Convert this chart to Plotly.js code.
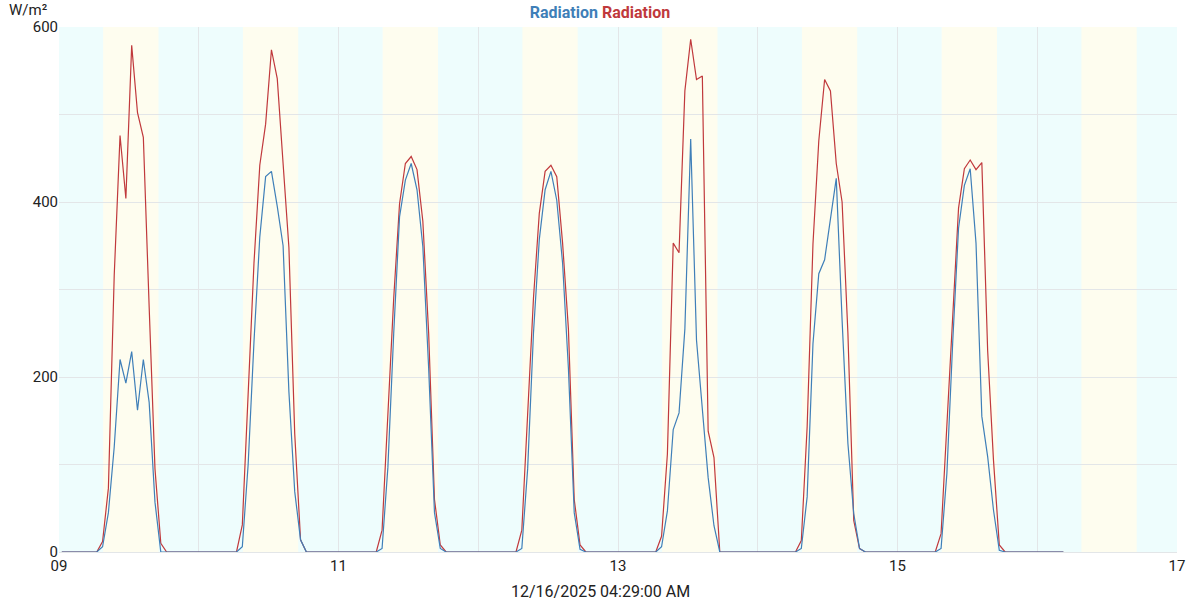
<!DOCTYPE html>
<html>
<head>
<meta charset="utf-8">
<script src="https://cdn.plot.ly/plotly-3.0.1.min.js"></script>
<style>html,body{margin:0;padding:0;background:#fff;}#chart{width:1200px;height:600px;}</style>
</head>
<body>
<div id="chart"></div>
<script>
// Days shown (December 2025), hourly readings at HH:29
var days = ['09','10','11','12','13','14','15'];
var lastDay = '16';
var lastDayHours = 5; // 00:29 .. 04:29

// Daylight readings, hours 07..17 (other hours read as 0)
var redDay09 = [12, 73, 316, 476, 404, 579, 502, 474, 280, 95, 10];
var redDay10 = [31, 180, 330, 442, 489, 574, 541, 444, 348, 135, 14];
var redDay11 = [25, 150, 290, 398, 444, 452, 437, 378, 250, 60, 8];
var redDay12 = [25, 150, 290, 387, 435, 442, 429, 353, 255, 60, 8];
var redDay13 = [18, 112, 353, 342, 527, 586, 540, 544, 138, 108, 0];
var redDay14 = [13, 143, 352, 470, 540, 527, 444, 400, 250, 36, 4];
var redDay15 = [21, 145, 270, 393, 438, 448, 437, 445, 230, 105, 8];

var blueDay09 = [6, 45, 120, 220, 193, 229, 162, 220, 171, 57, 0];
var blueDay10 = [6, 100, 240, 360, 429, 435, 395, 350, 183, 69, 14];
var blueDay11 = [4, 97, 250, 383, 425, 444, 414, 349, 210, 45, 4];
var blueDay12 = [4, 95, 250, 357, 414, 435, 402, 330, 210, 45, 3];
var blueDay13 = [6, 47, 140, 159, 255, 472, 242, 159, 85, 30, 0];
var blueDay14 = [4, 63, 238, 318, 334, 383, 427, 265, 124, 44, 4];
var blueDay15 = [4, 90, 240, 370, 419, 438, 353, 155, 109, 48, 2];

var redDays = [redDay09, redDay10, redDay11, redDay12, redDay13, redDay14, redDay15];
var blueDays = [blueDay09, blueDay10, blueDay11, blueDay12, blueDay13, blueDay14, blueDay15];

// Daylight shading bands
var bandDays = ['09','10','11','12','13','14','15','16'];
var sunrise = '07:35';
var sunset = '17:05';

var xTickVals = ['2025-12-09','2025-12-11','2025-12-13','2025-12-15','2025-12-17'];
var xTickText = ['09','11','13','15','17'];
var yTickVals = [0, 200, 400, 600];

function pad(n){ return (n < 10 ? '0' : '') + n; }

var xs = [], red = [], blue = [];
for (var d = 0; d < days.length; d++) {
  for (var h = 0; h < 24; h++) {
    xs.push('2025-12-' + days[d] + ' ' + pad(h) + ':29');
    var i = h - 7;
    red.push(i >= 0 && i < redDays[d].length ? redDays[d][i] : 0);
    blue.push(i >= 0 && i < blueDays[d].length ? blueDays[d][i] : 0);
  }
}
for (var h2 = 0; h2 < lastDayHours; h2++) {
  xs.push('2025-12-' + lastDay + ' ' + pad(h2) + ':29');
  red.push(0); blue.push(0);
}

var shapes = bandDays.map(function(dd){
  return {type:'rect', xref:'x', yref:'paper', layer:'below',
    x0:'2025-12-' + dd + ' ' + sunrise, x1:'2025-12-' + dd + ' ' + sunset,
    y0:0, y1:1, fillcolor:'#fefdef', line:{width:0}};
});

var traces = [
  {x: xs, y: red, type:'scatter', mode:'lines', name:'Radiation',
   line:{color:'#c0393c', width:1.2}, hoverinfo:'x+y'},
  {x: xs, y: blue, type:'scatter', mode:'lines', name:'Radiation',
   line:{color:'#3f7fb8', width:1.2}, hoverinfo:'x+y'}
];

var font = {family:'Roboto, "Open Sans", sans-serif', size:15, color:'#222'};

var layout = {
  width:1200, height:600,
  margin:{l:59, r:23, t:27, b:48},
  paper_bgcolor:'#ffffff',
  plot_bgcolor:'#eefdfd',
  showlegend:false,
  font: font,
  title:{text:'<b><span style="color:#3f7fb8">Radiation</span> <span style="color:#c0393c">Radiation</span></b>',
    x:0.5, xref:'container', y:0.98, yref:'container', yanchor:'middle',
    font:{family:'Roboto, sans-serif', size:16}},
  xaxis:{type:'date', range:['2025-12-09','2025-12-17'],
    tickmode:'array', tickvals:xTickVals, ticktext:xTickText,
    showgrid:true, gridcolor:'#e3e6e8', gridwidth:1,
    minor:{dtick:86400000, showgrid:true, gridcolor:'#e3e6e8', gridwidth:1},
    zeroline:false, showline:true, linecolor:'#e3e6e8', linewidth:1,
    ticks:'', tickfont:{family:'Roboto, sans-serif', size:15, color:'#222'}},
  yaxis:{range:[0,600], tickmode:'array', tickvals:yTickVals,
    showgrid:true, gridcolor:'#e3e6e8', gridwidth:1,
    minor:{dtick:100, showgrid:true, gridcolor:'#e3e6e8', gridwidth:1},
    zeroline:false, showline:false, ticks:'',
    tickfont:{family:'Roboto, sans-serif', size:15, color:'#222'}},
  shapes: shapes,
  annotations:[
    {text:'W/m²', xref:'paper', yref:'paper', x:-0.028, y:1, xanchor:'center', yanchor:'middle',
     yshift:17, showarrow:false, font:{family:'Roboto, sans-serif', size:15, color:'#222'}},
    {text:'12/16/2025 04:29:00 AM', xref:'paper', yref:'paper', x:0.4839, y:0, xanchor:'center', yanchor:'middle',
     yshift:-39, showarrow:false, font:{family:'Roboto, sans-serif', size:16, color:'#222'}}
  ]
};

Plotly.newPlot('chart', traces, layout, {displayModeBar:false, staticPlot:true});
</script>
</body>
</html>
